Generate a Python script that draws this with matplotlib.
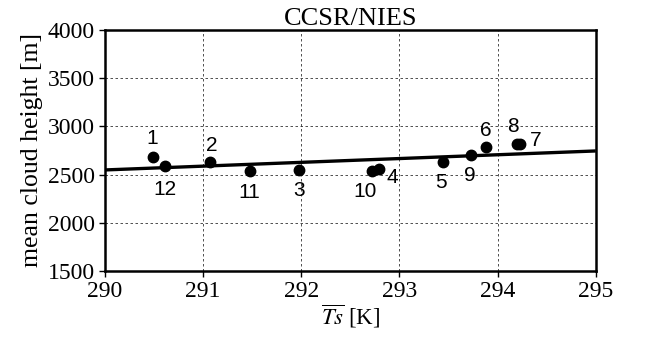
import matplotlib
matplotlib.use("Agg")
import matplotlib.pyplot as plt

plt.rcParams["font.family"] = ["Liberation Serif", "DejaVu Serif"]
plt.rcParams["mathtext.fontset"] = "stix"

# mean surface temperature [K] and mean cloud height [m] per member
labels = ["1", "12", "2", "11", "3", "10", "4", "5", "9", "6", "8", "7"]
ts_mean = [290.49, 290.61, 291.07, 291.48, 291.98, 292.72, 292.79,
           293.44, 293.73, 293.88, 294.20, 294.23]
cloud_height = [2686, 2590, 2631, 2534, 2552, 2534, 2559,
                2633, 2703, 2783, 2818, 2812]

# regression line end points
fit_x = [290, 295]
fit_y = [2548, 2745]

x_ticks = [290, 291, 292, 293, 294, 295]
y_ticks = [1500, 2000, 2500, 3000, 3500, 4000]

# label offsets (points) relative to each dot
label_offsets = {
    "1": (-1, 13), "12": (0, -17), "2": (1, 12), "11": (-1, -15),
    "3": (0, -15), "10": (-5, -14.5), "4": (10, -6), "5": (-1, -15),
    "9": (-1, -15), "6": (0, 12), "8": (-3, 12.5), "7": (11, 3),
}

num_font = ["Liberation Sans", "DejaVu Sans"]

fig = plt.figure(figsize=(6.54, 3.37), dpi=100)
ax = fig.add_axes([0.1606, 0.196, 0.7504, 0.715])

ax.plot(fit_x, fit_y, color="black", lw=2.4, solid_capstyle="butt", zorder=3)
ax.plot(ts_mean, cloud_height, "o", color="black", ms=7.5, zorder=4)

for lab, x, y in zip(labels, ts_mean, cloud_height):
    dx, dy = label_offsets[lab]
    ax.annotate(lab, (x, y), xytext=(dx, dy), textcoords="offset points",
                ha="center", va="center", fontsize=15, family=num_font)

ax.set_xlim(290, 295)
ax.set_ylim(1500, 4000)
ax.set_xticks(x_ticks)
ax.set_yticks(y_ticks)
ax.grid(True, linestyle=(0, (3, 3)), color="black", lw=0.6, alpha=0.8)
ax.tick_params(direction="out", length=4.5, width=1, labelsize=17, pad=3)
for sp in ax.spines.values():
    sp.set_linewidth(1.8)

ax.set_title("CCSR/NIES", fontsize=19, pad=2)
ax.set_ylabel("mean cloud height [m]", fontsize=18.5, labelpad=3)
ax.set_xlabel(r"$\overline{Ts}$ [K]", fontsize=16.5, labelpad=0)

fig.savefig("out.png", dpi=100)
